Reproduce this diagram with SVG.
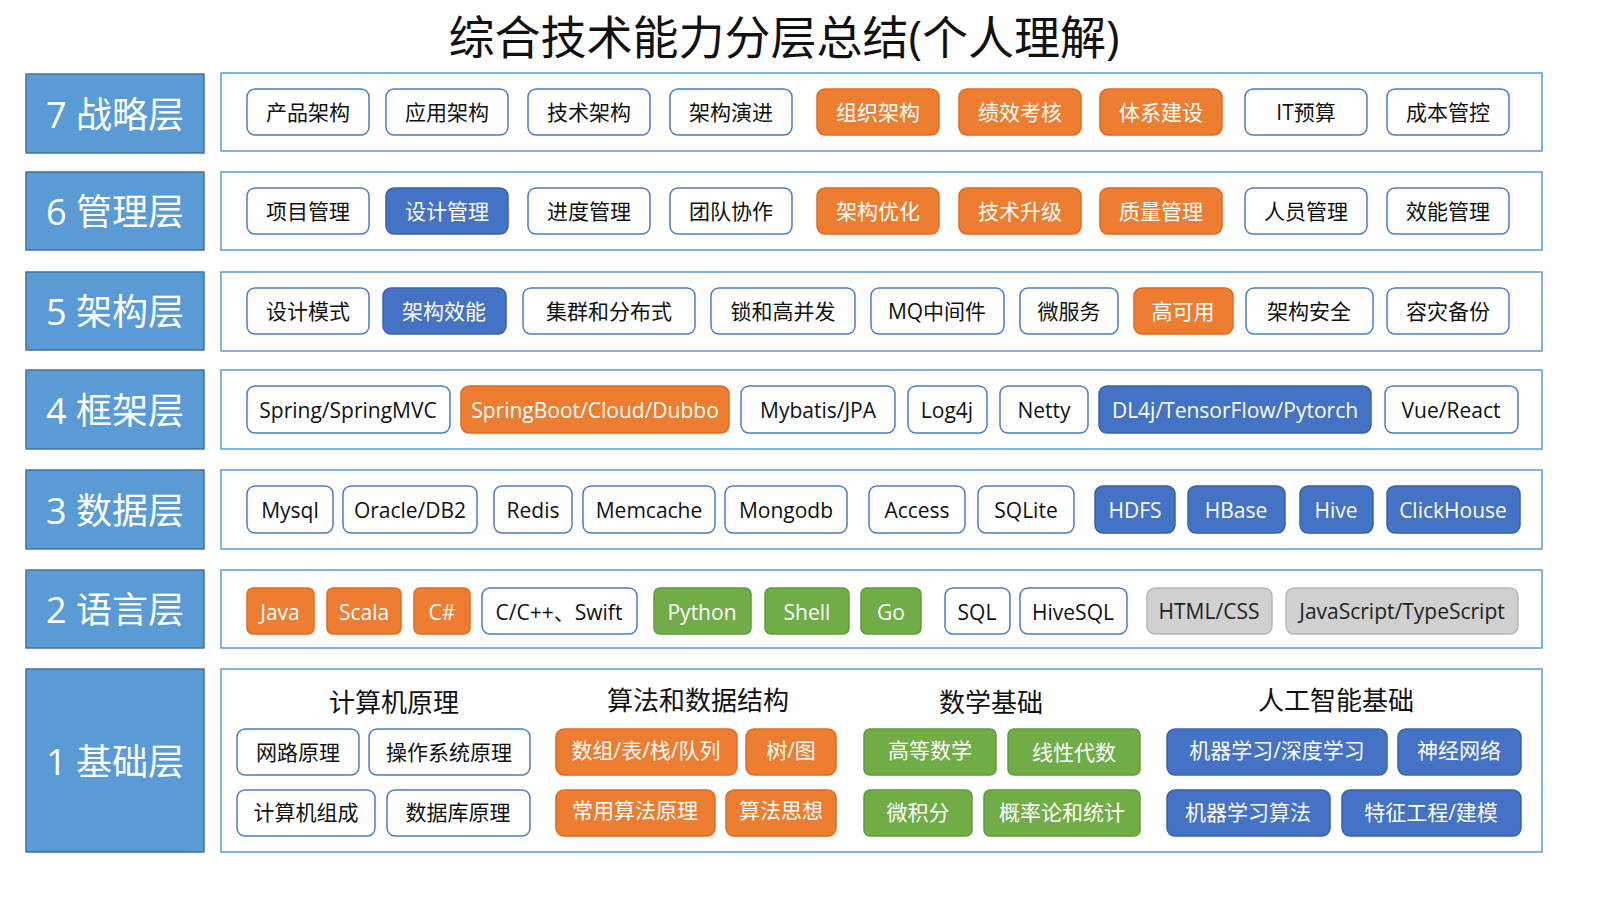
<svg xmlns="http://www.w3.org/2000/svg" width="1600" height="906" viewBox="0 0 1600 906">
<style>
text{font-family:"Open Sans","Noto Sans CJK SC",sans-serif;text-anchor:middle;dominant-baseline:central}
.lb{fill:#5b9bd5;stroke:#41719c;stroke-width:1.5}
.lt{fill:#fff;font-size:36px}
.ct{fill:#fff;stroke:#5b9bd5;stroke-width:1.5}
.p rect{fill:#fff;stroke:#4a7ebf;stroke-width:1.5}
.p text{font-size:21px;fill:#111}
.o rect{fill:#ed7d31;stroke:#e06b20}
.o text,.b text,.g text{fill:#fff}
.b rect{fill:#4472c4;stroke:#3a62ac}
.g rect{fill:#70ad47;stroke:#5f9a3b}
.y rect{fill:#d0d0d0;stroke:#b8b8b8}
.y text{fill:#222}
.h{font-size:26px;fill:#111}
</style>
<text x="784" y="36" style="font-size:46px;fill:#111">综合技术能力分层总结(个人理解)</text>
<g id="layers">
<rect class="lb" x="26" y="74" width="178" height="79"/><text class="lt" x="115" y="114">7  战略层</text>
<rect class="ct" x="221" y="73" width="1321" height="78"/>
<rect class="lb" x="26" y="172" width="178" height="78"/><text class="lt" x="115" y="211">6  管理层</text>
<rect class="ct" x="221" y="172" width="1321" height="78"/>
<rect class="lb" x="26" y="272" width="178" height="78"/><text class="lt" x="115" y="311">5  架构层</text>
<rect class="ct" x="221" y="272" width="1321" height="79"/>
<rect class="lb" x="26" y="370" width="178" height="79"/><text class="lt" x="115" y="410">4  框架层</text>
<rect class="ct" x="221" y="370" width="1321" height="79"/>
<rect class="lb" x="26" y="470" width="178" height="79"/><text class="lt" x="115" y="510">3  数据层</text>
<rect class="ct" x="221" y="470" width="1321" height="79"/>
<rect class="lb" x="26" y="570" width="178" height="78"/><text class="lt" x="115" y="609">2  语言层</text>
<rect class="ct" x="221" y="570" width="1321" height="78"/>
<rect class="lb" x="26" y="669" width="178" height="183"/><text class="lt" x="115" y="761">1  基础层</text>
<rect class="ct" x="221" y="669" width="1321" height="183"/>
<text class="h" x="394" y="702">计算机原理</text>
<text class="h" x="698" y="700">算法和数据结构</text>
<text class="h" x="991" y="702">数学基础</text>
<text class="h" x="1336" y="700">人工智能基础</text>
</g>
<g id="nodes">
<g class="p"><rect x="247" y="89" width="122" height="46" rx="8"/><text x="308" y="112">产品架构</text></g>
<g class="p"><rect x="386" y="89" width="122" height="46" rx="8"/><text x="447" y="112">应用架构</text></g>
<g class="p"><rect x="528" y="89" width="122" height="46" rx="8"/><text x="589" y="112">技术架构</text></g>
<g class="p"><rect x="670" y="89" width="122" height="46" rx="8"/><text x="731" y="112">架构演进</text></g>
<g class="p o"><rect x="817" y="89" width="122" height="46" rx="8"/><text x="878" y="112">组织架构</text></g>
<g class="p o"><rect x="959" y="89" width="122" height="46" rx="8"/><text x="1020" y="112">绩效考核</text></g>
<g class="p o"><rect x="1100" y="89" width="122" height="46" rx="8"/><text x="1161" y="112">体系建设</text></g>
<g class="p"><rect x="1245" y="89" width="122" height="46" rx="8"/><text x="1306" y="112">IT预算</text></g>
<g class="p"><rect x="1387" y="89" width="122" height="46" rx="8"/><text x="1448" y="112">成本管控</text></g>

<g class="p"><rect x="247" y="188" width="122" height="46" rx="8"/><text x="308" y="211">项目管理</text></g>
<g class="p b"><rect x="386" y="188" width="122" height="46" rx="8"/><text x="447" y="211">设计管理</text></g>
<g class="p"><rect x="528" y="188" width="122" height="46" rx="8"/><text x="589" y="211">进度管理</text></g>
<g class="p"><rect x="670" y="188" width="122" height="46" rx="8"/><text x="731" y="211">团队协作</text></g>
<g class="p o"><rect x="817" y="188" width="122" height="46" rx="8"/><text x="878" y="211">架构优化</text></g>
<g class="p o"><rect x="959" y="188" width="122" height="46" rx="8"/><text x="1020" y="211">技术升级</text></g>
<g class="p o"><rect x="1100" y="188" width="122" height="46" rx="8"/><text x="1161" y="211">质量管理</text></g>
<g class="p"><rect x="1245" y="188" width="122" height="46" rx="8"/><text x="1306" y="211">人员管理</text></g>
<g class="p"><rect x="1387" y="188" width="122" height="46" rx="8"/><text x="1448" y="211">效能管理</text></g>

<g class="p"><rect x="247" y="288" width="122" height="46" rx="8"/><text x="308" y="311">设计模式</text></g>
<g class="p b"><rect x="383" y="288" width="123" height="46" rx="8"/><text x="444" y="311">架构效能</text></g>
<g class="p"><rect x="523" y="288" width="172" height="46" rx="8"/><text x="609" y="311">集群和分布式</text></g>
<g class="p"><rect x="711" y="288" width="144" height="46" rx="8"/><text x="783" y="311">锁和高并发</text></g>
<g class="p"><rect x="871" y="288" width="133" height="46" rx="8"/><text x="937" y="311">MQ中间件</text></g>
<g class="p"><rect x="1020" y="288" width="98" height="46" rx="8"/><text x="1069" y="311">微服务</text></g>
<g class="p o"><rect x="1134" y="288" width="99" height="46" rx="8"/><text x="1183" y="311">高可用</text></g>
<g class="p"><rect x="1246" y="288" width="127" height="46" rx="8"/><text x="1309" y="311">架构安全</text></g>
<g class="p"><rect x="1387" y="288" width="122" height="46" rx="8"/><text x="1448" y="311">容灾备份</text></g>

<g class="p"><rect x="247" y="386" width="203" height="47" rx="8"/><text x="348" y="410">Spring/SpringMVC</text></g>
<g class="p o"><rect x="461" y="386" width="268" height="47" rx="8"/><text x="595" y="410">SpringBoot/Cloud/Dubbo</text></g>
<g class="p"><rect x="741" y="386" width="154" height="47" rx="8"/><text x="818" y="410">Mybatis/JPA</text></g>
<g class="p"><rect x="908" y="386" width="79" height="47" rx="8"/><text x="947" y="410">Log4j</text></g>
<g class="p"><rect x="1000" y="386" width="88" height="47" rx="8"/><text x="1044" y="410">Netty</text></g>
<g class="p b"><rect x="1099" y="386" width="272" height="47" rx="8"/><text x="1235" y="410">DL4j/TensorFlow/Pytorch</text></g>
<g class="p"><rect x="1385" y="386" width="133" height="47" rx="8"/><text x="1451" y="410">Vue/React</text></g>

<g class="p"><rect x="247" y="486" width="86" height="47" rx="8"/><text x="290" y="510">Mysql</text></g>
<g class="p"><rect x="343" y="486" width="134" height="47" rx="8"/><text x="410" y="510">Oracle/DB2</text></g>
<g class="p"><rect x="494" y="486" width="78" height="47" rx="8"/><text x="533" y="510">Redis</text></g>
<g class="p"><rect x="583" y="486" width="132" height="47" rx="8"/><text x="649" y="510">Memcache</text></g>
<g class="p"><rect x="725" y="486" width="122" height="47" rx="8"/><text x="786" y="510">Mongodb</text></g>
<g class="p"><rect x="869" y="486" width="96" height="47" rx="8"/><text x="917" y="510">Access</text></g>
<g class="p"><rect x="978" y="486" width="96" height="47" rx="8"/><text x="1026" y="510">SQLite</text></g>
<g class="p b"><rect x="1095" y="486" width="80" height="47" rx="8"/><text x="1135" y="510">HDFS</text></g>
<g class="p b"><rect x="1188" y="486" width="97" height="47" rx="8"/><text x="1236" y="510">HBase</text></g>
<g class="p b"><rect x="1300" y="486" width="73" height="47" rx="8"/><text x="1336" y="510">Hive</text></g>
<g class="p b"><rect x="1387" y="486" width="133" height="47" rx="8"/><text x="1453" y="510">ClickHouse</text></g>

<g class="p o"><rect x="247" y="588" width="67" height="46" rx="6"/><text x="280" y="612">Java</text></g>
<g class="p o"><rect x="327" y="588" width="74" height="46" rx="6"/><text x="364" y="612">Scala</text></g>
<g class="p o"><rect x="414" y="588" width="56" height="46" rx="6"/><text x="442" y="612">C#</text></g>
<g class="p"><rect x="482" y="588" width="155" height="46" rx="8"/><text x="559" y="612">C/C++、Swift</text></g>
<g class="p g"><rect x="654" y="588" width="97" height="46" rx="6"/><text x="702" y="612">Python</text></g>
<g class="p g"><rect x="765" y="588" width="84" height="46" rx="6"/><text x="807" y="612">Shell</text></g>
<g class="p g"><rect x="861" y="588" width="60" height="46" rx="6"/><text x="891" y="612">Go</text></g>
<g class="p"><rect x="945" y="588" width="65" height="46" rx="8"/><text x="977" y="612">SQL</text></g>
<g class="p"><rect x="1020" y="588" width="107" height="46" rx="8"/><text x="1073" y="612">HiveSQL</text></g>
<g class="p y"><rect x="1147" y="588" width="125" height="46" rx="8"/><text x="1209" y="611">HTML/CSS</text></g>
<g class="p y"><rect x="1286" y="588" width="232" height="46" rx="8"/><text x="1402" y="611">JavaScript/TypeScript</text></g>

<g class="p"><rect x="237" y="729" width="122" height="46" rx="8"/><text x="298" y="752">网路原理</text></g>
<g class="p"><rect x="369" y="729" width="161" height="46" rx="8"/><text x="449" y="752">操作系统原理</text></g>
<g class="p o"><rect x="556" y="729" width="181" height="46" rx="8"/><text x="646" y="750">数组/表/栈/队列</text></g>
<g class="p o"><rect x="746" y="729" width="90" height="46" rx="8"/><text x="791" y="750">树/图</text></g>
<g class="p g"><rect x="864" y="729" width="132" height="46" rx="6"/><text x="930" y="750">高等数学</text></g>
<g class="p g"><rect x="1008" y="729" width="132" height="46" rx="6"/><text x="1074" y="752">线性代数</text></g>
<g class="p b"><rect x="1167" y="729" width="220" height="46" rx="8"/><text x="1277" y="750">机器学习/深度学习</text></g>
<g class="p b"><rect x="1398" y="729" width="123" height="46" rx="8"/><text x="1459" y="750">神经网络</text></g>
<g class="p"><rect x="237" y="790" width="138" height="46" rx="8"/><text x="306" y="812">计算机组成</text></g>
<g class="p"><rect x="387" y="790" width="143" height="46" rx="8"/><text x="458" y="812">数据库原理</text></g>
<g class="p o"><rect x="556" y="790" width="159" height="46" rx="8"/><text x="635" y="810">常用算法原理</text></g>
<g class="p o"><rect x="726" y="790" width="110" height="46" rx="8"/><text x="781" y="810">算法思想</text></g>
<g class="p g"><rect x="864" y="790" width="108" height="46" rx="6"/><text x="918" y="812">微积分</text></g>
<g class="p g"><rect x="984" y="790" width="156" height="46" rx="6"/><text x="1062" y="812">概率论和统计</text></g>
<g class="p b"><rect x="1167" y="790" width="163" height="46" rx="8"/><text x="1248" y="812">机器学习算法</text></g>
<g class="p b"><rect x="1342" y="790" width="179" height="46" rx="8"/><text x="1431" y="812">特征工程/建模</text></g>
</g>
<g id="connectors"/>
</svg>
